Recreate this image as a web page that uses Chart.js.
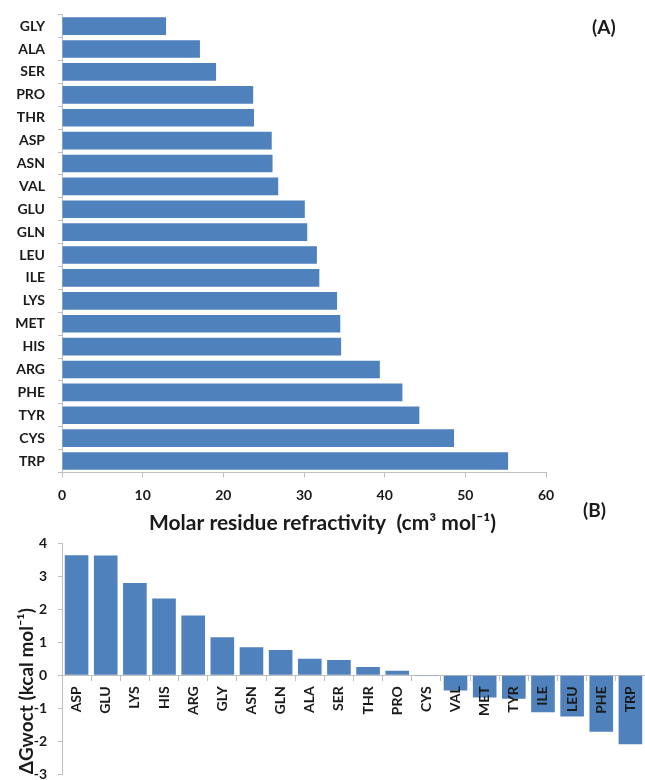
<!DOCTYPE html>
<html><head><meta charset="utf-8">
<script src="https://cdn.jsdelivr.net/npm/chart.js@4.4.1/dist/chart.umd.min.js"></script>
<style>
html,body{margin:0;padding:0;background:#fff;}
#wrap{position:relative;width:645px;height:780px;overflow:hidden;background:#fff;}
#cA{position:absolute;left:0;top:0;}
#cB{position:absolute;left:0;top:530px;}
.tag{position:absolute;font-family:Lato,sans-serif;font-weight:bold;font-size:19px;color:#1a1a1a;line-height:22px;}
</style></head>
<body><div id="wrap">
<canvas id="cA" width="645" height="540"></canvas>
<canvas id="cB" width="645" height="271"></canvas>
<div class="tag" style="left:592px;top:16px">(A)</div>
<div class="tag" style="left:583px;top:499px">(B)</div>
</div>
<script>
// ---- data ----
const residuesA = ['GLY','ALA','SER','PRO','THR','ASP','ASN','VAL','GLU','GLN','LEU','ILE','LYS','MET','HIS','ARG','PHE','TYR','CYS','TRP'];
const refractivity = [12.9, 17.1, 19.1, 23.7, 23.8, 26.0, 26.1, 26.8, 30.1, 30.4, 31.6, 31.9, 34.1, 34.5, 34.6, 39.4, 42.2, 44.3, 48.6, 55.3];
const residuesB = ['ASP','GLU','LYS','HIS','ARG','GLY','ASN','GLN','ALA','SER','THR','PRO','CYS','VAL','MET','TYR','ILE','LEU','PHE','TRP'];
const gwoct = [3.64, 3.63, 2.80, 2.33, 1.81, 1.15, 0.85, 0.77, 0.50, 0.46, 0.25, 0.14, -0.02, -0.46, -0.67, -0.71, -1.12, -1.25, -1.71, -2.09];
const xTicksA = {min: 0, max: 60, step: 10};
const yTicksB = {min: -3, max: 4, step: 1};
const titleA = 'Molar residue refractivity  (cm\u00B3 mol\u207B\u00B9)';
const titleB = '\u0394Gwoct (kcal mol\u207B\u00B9)';

const BLUE = '#4F81BD';
const AXIS = '#BFBFBF';
const TEXT = '#1a1a1a';
Chart.defaults.font.family = 'Lato, "Open Sans", sans-serif';
Chart.defaults.font.size = 14;
Chart.defaults.font.weight = 'bold';
Chart.defaults.color = TEXT;

function fix(w, h) {
  return s => {
    if (w !== null) s.width = w;
    if (h !== null) s.height = h;
    s.paddingLeft = 0; s.paddingRight = 0; s.paddingTop = 0; s.paddingBottom = 0;
  };
}

new Chart(document.getElementById('cA'), {
  type: 'bar',
  data: { labels: residuesA, datasets: [{ data: refractivity, backgroundColor: BLUE, borderWidth: 0,
    barPercentage: 0.77, categoryPercentage: 1.0 }] },
  options: {
    indexAxis: 'y', responsive: false, animation: false,
    layout: { padding: { left: 0, right: 0, top: 14.7, bottom: 0 } },
    plugins: {
      legend: { display: false }, tooltip: { enabled: false },
      title: { display: true, position: 'bottom', text: titleA, color: TEXT,
        font: { size: 21, weight: 'bold', lineHeight: 1.2 }, padding: { top: 0, bottom: 4.4 } }
    },
    scales: {
      x: { type: 'linear', min: xTicksA.min, max: xTicksA.max,
        ticks: { stepSize: xTicksA.step, padding: 9.9, color: TEXT },
        grid: { drawOnChartArea: false, drawTicks: true, tickLength: 5, color: AXIS },
        border: { display: true, color: AXIS },
        afterFit: fix(null, 37.9) },
      y: { type: 'category',
        ticks: { padding: 13, color: TEXT, autoSkip: false },
        grid: { drawOnChartArea: false, drawTicks: true, tickLength: 4, color: AXIS },
        border: { display: true, color: AXIS },
        afterFit: fix(62, null) },
      yR: { type: 'category', axis: 'y', position: 'right', display: true,
        ticks: { display: false }, grid: { display: false }, border: { display: false },
        afterFit: fix(99, null) }
    }
  }
});

new Chart(document.getElementById('cB'), {
  type: 'bar',
  data: { labels: residuesB, datasets: [{ data: gwoct, backgroundColor: BLUE, borderWidth: 0,
    barPercentage: 0.81, categoryPercentage: 1.0 }] },
  options: {
    responsive: false, animation: false,
    layout: { padding: { left: 0, right: 0, top: 13.3, bottom: 26.7 } },
    plugins: { legend: { display: false }, tooltip: { enabled: false } },
    scales: {
      x: { type: 'category', position: { y: 0 },
        ticks: { minRotation: 90, maxRotation: 90, autoSkip: false, padding: 6, color: TEXT, z: 1 },
        grid: { drawOnChartArea: false, drawTicks: true, tickLength: 5, color: AXIS },
        border: { display: true, color: AXIS },
        afterFit: fix(null, null) },
      y: { type: 'linear', min: yTicksB.min, max: yTicksB.max,
        ticks: { stepSize: yTicksB.step, padding: 11, color: TEXT },
        grid: { drawOnChartArea: false, drawTicks: true, tickLength: 4, color: AXIS },
        border: { display: true, color: AXIS },
        title: { display: true, text: titleB, align: 'start', color: TEXT,
          font: { size: 19, weight: 'bold', lineHeight: 1.2 }, padding: { top: 15.6, bottom: 0 } },
        afterFit: fix(62, null) }
    }
  }
});
</script>
</body></html>
